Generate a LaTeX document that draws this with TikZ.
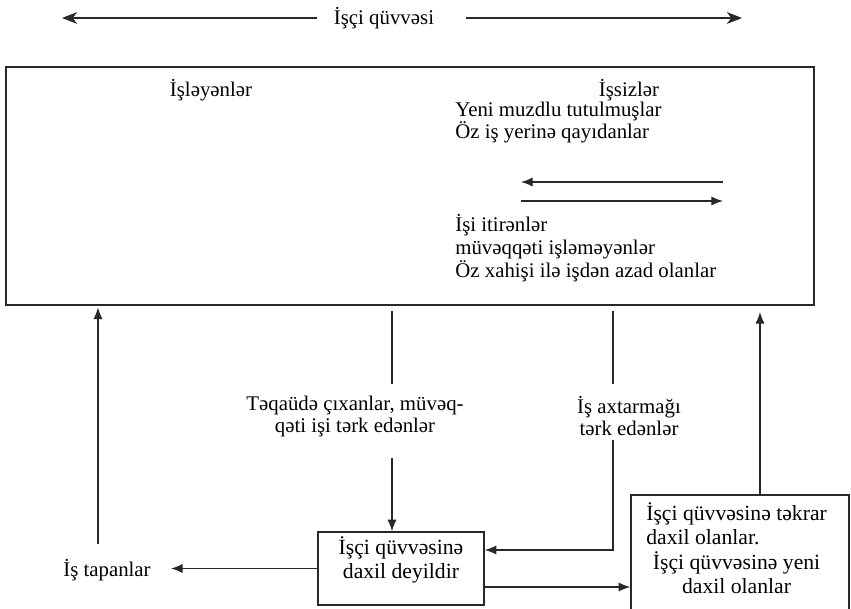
\documentclass[tikz,border=0pt]{standalone}
\usepackage{fontspec}
\setmainfont{Liberation Serif}
\usepackage{xcolor}
\usetikzlibrary{arrows.meta,positioning}
\definecolor{lineg}{RGB}{40,40,40}
\tikzset{
  frame/.style={draw=lineg,line width=0.9pt,inner sep=0pt},
  link/.style={draw=lineg,line width=0.75pt},
  flow/.style={link,-{Latex[length=7pt,width=5.5pt]}},
  txt/.style={inner sep=0pt,font=\fontsize{12.5}{13.2}\selectfont},
  boxtxt/.style={inner sep=0pt,font=\fontsize{13}{14.4}\selectfont},
}

\begin{document}
\begin{tikzpicture}[x=0.6pt,y=-0.6pt,>=Stealth]
  \useasboundingbox (0,0) rectangle (851,609);
  \node[txt] (force) at (384,18) {İşçi qüvvəsi};
  \coordinate (forceL) at (62,18);
  \coordinate (forceR) at (742,18);
  \draw[link,-{Stealth[length=9pt,width=7pt,inset=2.5pt]},shorten <=10pt] (force.west) -- (forceL);
  \draw[link,-{Stealth[length=9pt,width=7pt,inset=2.5pt]},shorten <=19pt] (force.east) -- (forceR);

  \node[frame,minimum width=484.8pt,minimum height=142.8pt] (lab) at (410,186) {};
  \node[txt] (emp) at (211,90) {İşləyənlər};
  \node[txt] (unemp) at (629,90) {İşsizlər};
  \node[txt,anchor=west,align=left] (hired) at (455,123) {Yeni muzdlu tutulmuşlar\\Öz iş yerinə qayıdanlar};
  \coordinate (inL) at (521,182);
  \coordinate (inR) at (723,182);
  \coordinate (outL) at (521,201);
  \coordinate (outR) at (723,201);
  \draw[flow] (inR) -- (inL);
  \draw[flow] (outL) -- (outR);
  \node[txt,anchor=west,align=left,font=\fontsize{12.5}{13.6}\selectfont] (lost) at (455,248) {İşi itirənlər\\müvəqqəti işləməyənlər\\Öz xahişi ilə işdən azad olanlar};

  \node[frame,minimum width=99.6pt,minimum height=43.8pt] (nil) at (401,568.5) {};
  \node[boxtxt,align=center] (niltxt) at (401,560) {İşçi qüvvəsinə\\daxil deyildir};
  \node[frame,minimum width=130.8pt,minimum height=99pt] (rb) at (740,577.5) {};
  \node[boxtxt,anchor=north west] (rbtxt) at (646,502) {\begin{tabular}{@{}l@{}}
    İşçi qüvvəsinə təkrar\\
    daxil olanlar.\\
    \multicolumn{1}{@{}c@{}}{İşçi qüvvəsinə yeni}\\
    \multicolumn{1}{@{}c@{}}{daxil olanlar}
  \end{tabular}};

  \node[txt] (find) at (107,570) {İş tapanlar};
  \coordinate (findUp) at (98,544);
  \draw[flow,shorten >=1pt] (findUp) -- (findUp |- lab.south);
  \draw[flow,shorten >=12pt] (nil.west) -- (nil.west -| find.east);

  \node[txt,align=center] (ret) at (355,416) {Təqaüdə çıxanlar, müvəq-\\qəti işi tərk edənlər};
  \coordinate (retTop) at (392,311);
  \coordinate (retMid) at (392,384);
  \coordinate (retLow) at (392,458);
  \draw[link] (retTop) -- (retMid);
  \draw[flow] (retLow) -- (retLow |- nil.north);

  \node[txt,align=center] (quit) at (629,416) {İş axtarmağı\\tərk edənlər};
  \coordinate (quitTop) at (613,311);
  \coordinate (quitMid) at (613,384);
  \coordinate (quitLow) at (613,440);
  \coordinate (quitCor) at (613,550);
  \draw[link] (quitTop) -- (quitMid);
  \draw[flow] (quitLow) -- (quitCor) -- (quitCor -| nil.east);

  \coordinate (enter) at (0,587);
  \draw[flow] (nil.east |- enter) -- (rb.west |- enter);
  \coordinate (backUp) at (760,312);
  \draw[flow] (backUp |- rb.north) -- (backUp);
\end{tikzpicture}
\end{document}
